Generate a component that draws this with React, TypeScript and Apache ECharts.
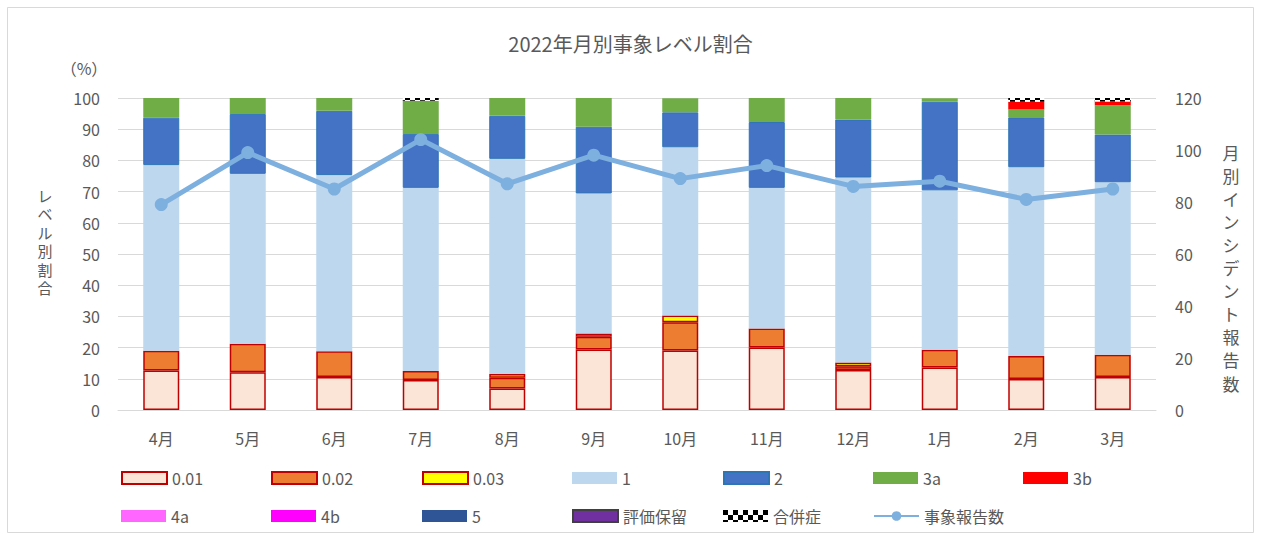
import React, { useEffect, useRef } from "react";
import * as echarts from "echarts";

const months = ["4月", "5月", "6月", "7月", "8月", "9月", "10月", "11月", "12月", "1月", "2月", "3月"];
const lv001 = [12.7, 12.1, 10.6, 9.6, 6.9, 19.4, 19.1, 20.0, 12.8, 13.6, 9.9, 10.6];
const lv002 = [6.3, 9.1, 8.2, 2.9, 3.4, 4.1, 9.0, 6.1, 1.2, 5.7, 7.4, 7.1];
const lv003 = [0, 0, 0, 0, 1.2, 1.0, 2.2, 0, 1.2, 0, 0, 0];
const lv1 = [59.5, 54.5, 56.5, 58.7, 69.0, 44.9, 53.9, 45.1, 59.3, 51.1, 60.5, 55.3];
const lv2 = [15.2, 19.2, 20.6, 17.3, 13.8, 21.4, 11.2, 21.1, 18.6, 28.4, 16.0, 15.3];
const lv3a = [6.3, 5.1, 4.1, 10.6, 5.7, 9.2, 4.5, 7.7, 7.0, 1.1, 2.5, 9.4];
const lv3b = [0, 0, 0, 0, 0, 0, 0, 0, 0, 0, 2.5, 1.2];
const lv4a = [0, 0, 0, 0, 0, 0, 0, 0, 0, 0, 0, 0];
const lv4b = [0, 0, 0, 0, 0, 0, 0, 0, 0, 0, 0, 0];
const lv5 = [0, 0, 0, 0, 0, 0, 0, 0, 0, 0, 0, 0];
const pending = [0, 0, 0, 0, 0, 0, 0, 0, 0, 0, 0, 0];
const complication = [0, 0, 0, 1.0, 0, 0, 0, 0, 0, 0, 1.2, 1.2];
const reports = [79, 99, 85, 104, 87, 98, 89, 94, 86, 88, 81, 85];

const leftTicks = { min: 0, max: 100, interval: 10 };
const rightTicks = { min: 0, max: 120, interval: 20 };

const TEXT = "#595959";
const FONT = "'Noto Sans CJK JP', sans-serif";

function makeChecker() {
  const c = document.createElement("canvas");
  c.width = 10;
  c.height = 10;
  const ctx = c.getContext("2d")!;
  ctx.fillStyle = "#ffffff";
  ctx.fillRect(0, 0, 10, 10);
  ctx.fillStyle = "#000000";
  ctx.fillRect(0, 0, 5, 5);
  ctx.fillRect(5, 5, 5, 5);
  return c.toDataURL();
}

export default function App() {
  const ref = useRef<HTMLDivElement>(null);
  useEffect(() => {
    if (!ref.current) return;
    const chart = echarts.init(ref.current, null, { renderer: "svg" });
    const checker = makeChecker();
    const nz = (arr: number[]) => arr.map((v) => (v === 0 ? null : v));

    const barDefs: { name: string; data: number[]; style: any }[] = [
      { name: "0.01", data: lv001, style: { color: "#FBE5D6", borderColor: "#C00000", borderWidth: 1.5 } },
      { name: "0.02", data: lv002, style: { color: "#ED7D31", borderColor: "#C00000", borderWidth: 1.5 } },
      { name: "0.03", data: lv003, style: { color: "#FFFF00", borderColor: "#C00000", borderWidth: 1.5 } },
      { name: "1", data: lv1, style: { color: "#BDD7EE" } },
      { name: "2", data: lv2, style: { color: "#4472C4", borderColor: "#2E75B6", borderWidth: 1 } },
      { name: "3a", data: lv3a, style: { color: "#70AD47" } },
      { name: "3b", data: lv3b, style: { color: "#FF0000" } },
      { name: "4a", data: lv4a, style: { color: "#FF66FF" } },
      { name: "4b", data: lv4b, style: { color: "#FF00FF" } },
      { name: "5", data: lv5, style: { color: "#2F5597" } },
      { name: "評価保留", data: pending, style: { color: "#7030A0", borderColor: "#404040", borderWidth: 1.5 } },
      {
        name: "合併症",
        data: complication,
        style: { color: { image: checker, repeat: "repeat", imageWidth: 10, imageHeight: 10 } },
      },
    ];

    const series: any[] = barDefs.map((d) => ({
      name: d.name,
      type: "bar",
      stack: "lv",
      barWidth: 36,
      yAxisIndex: 0,
      data: nz(d.data),
      itemStyle: d.style,
      emphasis: { disabled: true },
    }));
    series.push({
      name: "事象報告数",
      type: "line",
      yAxisIndex: 1,
      data: reports,
      symbol: "circle",
      symbolSize: 13,
      lineStyle: { color: "#7DAFDF", width: 5 },
      itemStyle: { color: "#7DAFDF" },
      z: 5,
    });

    const cols = [121, 271, 422, 572, 723, 873, 1023];
    const row1 = ["0.01", "0.02", "0.03", "1", "2", "3a", "3b"];
    const row2 = ["4a", "4b", "5", "評価保留", "合併症", "事象報告数"];
    const legends: any[] = [];
    const mk = (name: string, left: number, top: number) => ({
      data: [name === "事象報告数" ? name : { name, icon: "rect" }],
      left,
      top,
      padding: 0,
      itemWidth: 45,
      itemHeight: 12,
      itemGap: 0,
      textStyle: { color: TEXT, fontSize: 16, fontFamily: FONT },
      selectedMode: false,
    });
    row1.forEach((n, i) => legends.push(mk(n, cols[i], 470)));
    row2.forEach((n, i) => legends.push(mk(n, cols[i], 508)));

    const verticalChars = (s: string, x: number, y0: number, step: number, size: number) =>
      s.split("").map((ch, i) => ({
        type: "text",
        x,
        y: y0 + i * step,
        silent: true,
        style: {
          text: ch,
          fill: TEXT,
          font: `${size}px ${FONT}`,
          textAlign: "center",
          textVerticalAlign: "middle",
        },
      }));

    chart.setOption({
      animation: false,
      title: {
        text: "2022年月別事象レベル割合",
        left: "center",
        top: 28,
        textStyle: { color: TEXT, fontSize: 20, fontWeight: "normal", fontFamily: FONT },
      },
      legend: legends,
      grid: { left: 118, right: 105, top: 98, bottom: 130 },
      xAxis: {
        type: "category",
        data: months,
        axisTick: { show: false },
        axisLine: { lineStyle: { color: "#D9D9D9", width: 1 } },
        axisLabel: { color: TEXT, fontSize: 16, fontFamily: FONT, margin: 20 },
      },
      yAxis: [
        {
          type: "value",
          ...leftTicks,
          axisLine: { show: false },
          axisTick: { show: false },
          splitLine: { lineStyle: { color: "#D9D9D9", width: 1 } },
          axisLabel: { color: TEXT, fontSize: 16, fontFamily: FONT, margin: 18 },
        },
        {
          type: "value",
          ...rightTicks,
          axisLine: { show: false },
          axisTick: { show: false },
          splitLine: { show: false },
          axisLabel: { color: TEXT, fontSize: 16, fontFamily: FONT, margin: 19 },
        },
      ],
      graphic: [
        {
          type: "rect",
          shape: { x: 7.5, y: 7.5, width: 1246, height: 525 },
          style: { fill: "none", stroke: "#D9D9D9", lineWidth: 1 },
          silent: true,
        },
        {
          type: "text",
          x: 84,
          y: 68,
          style: {
            text: "（%）",
            fill: TEXT,
            font: `16px ${FONT}`,
            textAlign: "center",
            textVerticalAlign: "middle",
          },
        },
        ...verticalChars("レベル別割合", 45, 195, 18.5, 15),
        ...verticalChars("月別インシデント報告数", 1231, 152, 23.1, 17),
      ],
      series,
    });
    return () => chart.dispose();
  }, []);
  return (
    <div
      ref={ref}
      style={{ position: "absolute", left: 0, top: 0, width: 1261, height: 540, background: "#fff" }}
    />
  );
}
